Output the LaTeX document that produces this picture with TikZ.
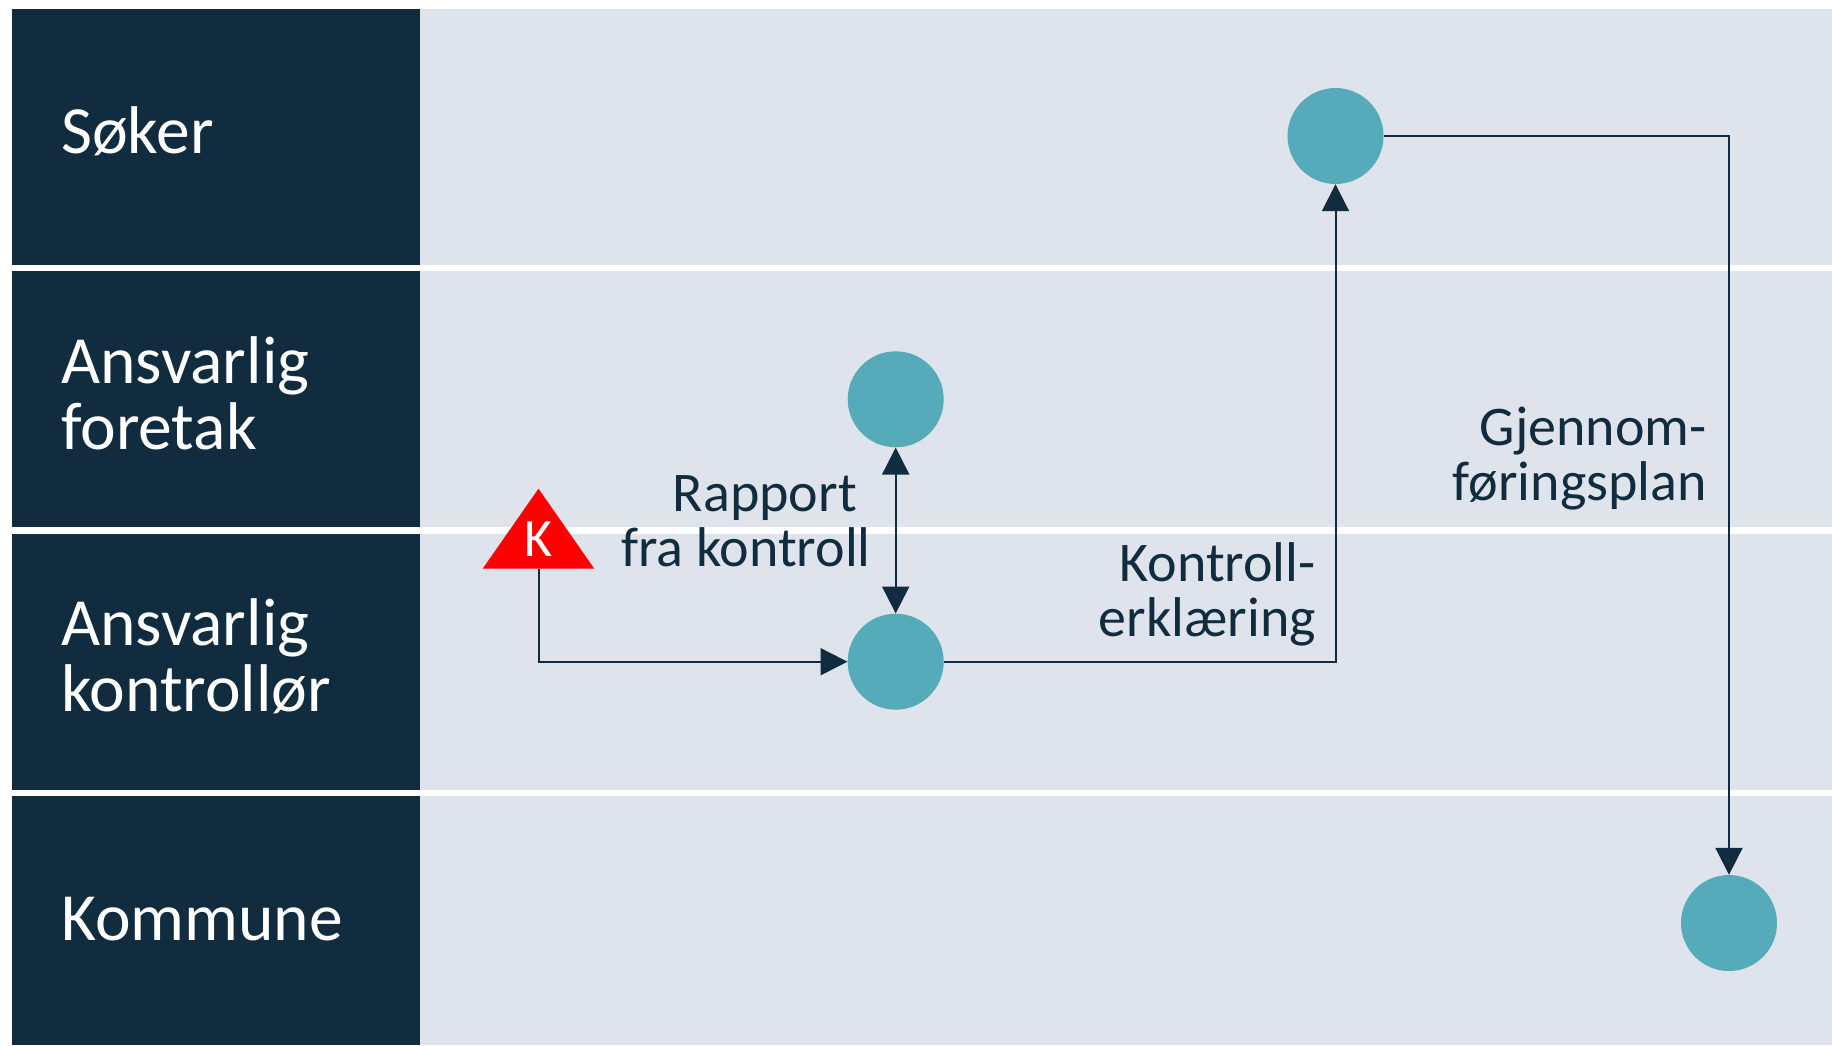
\documentclass[tikz,border=0pt]{standalone}
\usepackage{fontspec}
\setmainfont{Carlito}
\usetikzlibrary{arrows.meta,shapes.geometric}
\definecolor{navy}{HTML}{122C3F}
\definecolor{panel}{HTML}{DFE4EC}
\definecolor{teal2}{HTML}{55ABB9}
\tikzset{
  lanehead/.style={fill=navy,draw=none},
  lanebody/.style={fill=panel,draw=none},
  lanelabel/.style={text=white,anchor=base west,inner sep=0pt,align=left,font=\fontsize{67.5}{66}\selectfont},
  flowlabel/.style={text=navy,anchor=base east,inner sep=0pt,align=right,font=\fontsize{56}{55}\selectfont},
  stepdot/.style={circle,fill=teal2,draw=none,minimum size=96pt,inner sep=0pt},
  conn/.style={draw=navy,line width=2pt,line join=miter,-{Triangle[length=27pt,width=27pt]}},
  biconn/.style={draw=navy,line width=2pt,{Triangle[length=27pt,width=27pt]}-{Triangle[length=27pt,width=27pt]}},
}
\begin{document}
\begin{tikzpicture}[x=1pt,y=-1pt]
\useasboundingbox (0,0) rectangle (1832,1045);
\fill[white] (0,0) rectangle (1832,1045);
\foreach \a/\b in {9/265,271/527,534/790,796/1045}{
  \fill[lanehead] (12,\a) rectangle (420,\b);
  \fill[lanebody] (420,\a) rectangle (1832,\b);
}
\node[lanelabel] (l1) at (61,153) {Søker};
\node[lanelabel] (l2) at (61,449) {Ansvarlig\\foretak};
\node[lanelabel] (l3) at (61,711) {Ansvarlig\\kontrollør};
\node[lanelabel] (l4) at (61,940) {Kommune};

\node[stepdot] (c1) at (1335.5,136) {};
\node[stepdot] (c2) at (895.7,399.3) {};
\node[stepdot] (c3) at (895.7,661.7) {};
\node[stepdot] (c4) at (1729,923) {};
\node[isosceles triangle,isosceles triangle apex angle=70,isosceles triangle stretches,shape border rotate=90,fill=red,draw=none,inner sep=0pt,minimum width=111.6pt,minimum height=80pt,anchor=apex] (tri) at (538.5,488.3) {};
\node[text=white,anchor=base,inner sep=0pt,font=\fontsize{54}{66}\selectfont] (k) at (538.5,556.7) {K};

\node[flowlabel] (t1) at (871,566.7) {Rapport\rule{14pt}{0pt}\\fra kontroll};
\node[flowlabel] (t2) at (1316,636) {Kontroll-\\erklæring};
\node[flowlabel] (t3) at (1707,500) {Gjennom-\\føringsplan};

\draw[conn] (tri.south) |- (c3.west);
\draw[biconn] (c2.south) -- (c3.north);
\draw[conn] (c3.east) -| (c1.south);
\draw[conn] (c1.east) -| (c4.north);
\end{tikzpicture}
\end{document}
